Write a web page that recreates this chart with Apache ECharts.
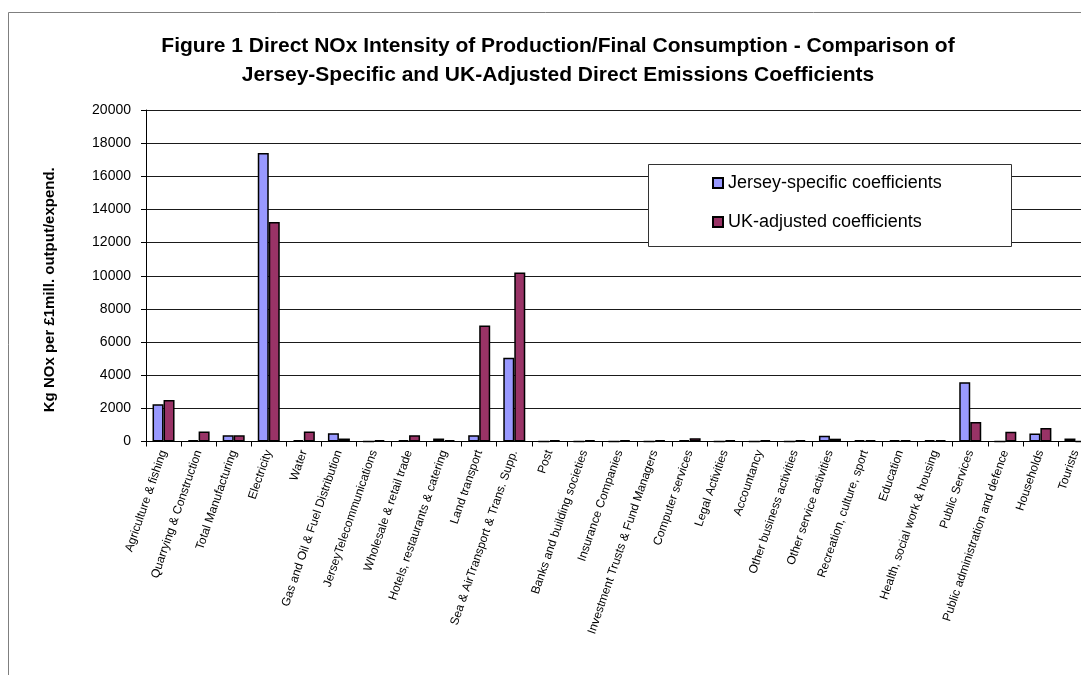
<!DOCTYPE html>
<html>
<head>
<meta charset="utf-8">
<script src="https://cdn.jsdelivr.net/npm/echarts@6/dist/echarts.min.js"></script>
<style>
  html, body { margin: 0; padding: 0; background: #fff; }
  #chart { width: 1081px; height: 675px; }
</style>
</head>
<body>
<div id="chart"></div>
<script>
// Sectors of the Jersey economy plus final-demand groups
const categories = [
  'Agriculture & fishing',
  'Quarrying & Construction',
  'Total Manufacturing',
  'Electricity',
  'Water',
  'Gas and Oil & Fuel Distribution',
  'JerseyTelecommunications',
  'Wholesale & retail trade',
  'Hotels, restaurants & catering',
  'Land transport',
  'Sea & AirTransport & Trans. Supp.',
  'Post',
  'Banks and building societies',
  'Insurance Companies',
  'Investment Trusts & Fund Managers',
  'Computer services',
  'Legal Activities',
  'Accountancy',
  'Other business activities',
  'Other service activities',
  'Recreation, culture, sport',
  'Education',
  'Health, social work & housing',
  'Public Services',
  'Public administration and defence',
  'Households',
  'Tourists'
];

// Kg NOx per £1 million output / expenditure
const jerseySpecific = [
  2250, 80, 370, 17400, 80, 500, 0, 80, 180, 370,
  5050, 0, 0, 0, 0, 80, 0, 0, 0, 350,
  80, 80, 80, 3580, 0, 490, 180
];
const ukAdjusted = [
  2500, 600, 370, 13250, 600, 180, 80, 380, 80, 7000,
  10200, 80, 80, 80, 80, 200, 80, 80, 80, 170,
  80, 80, 80, 1180, 590, 820, 0
];

const seriesNames = ['Jersey-specific coefficients', 'UK-adjusted coefficients'];
const seriesColors = ['#9999FF', '#993366'];

const yTicks = { min: 0, max: 20000, interval: 2000 };

const chart = echarts.init(document.getElementById('chart'), null, { renderer: 'canvas' });

const FONT = 'Arial, "Liberation Sans", sans-serif';

const option = {
  backgroundColor: '#ffffff',
  animation: false,
  title: {
    text: 'Figure 1 Direct NOx Intensity of Production/Final Consumption - Comparison of\nJersey-Specific and UK-Adjusted Direct Emissions Coefficients',
    left: 553,
    top: 27,
    textAlign: 'center',
    textStyle: {
      fontFamily: FONT,
      fontSize: 21,
      fontWeight: 'bold',
      color: '#000',
      lineHeight: 29
    }
  },
  graphic: [
    {
      type: 'rect',
      z: -1,
      silent: true,
      shape: { x: 8.5, y: 12.5, width: 1100, height: 700 },
      style: { fill: 'none', stroke: '#7f7f7f', lineWidth: 1 }
    },
    {
      type: 'rect',
      z: 3,
      silent: true,
      shape: { x: 648.5, y: 164.5, width: 363, height: 82 },
      style: { fill: '#ffffff', stroke: '#333333', lineWidth: 1 }
    }
  ],
  legend: {
    z: 5,
    orient: 'vertical',
    left: 712,
    top: 174,
    itemWidth: 10,
    itemHeight: 10,
    itemGap: 21,
    icon: 'rect',
    selectedMode: false,
    padding: 0,
    textStyle: {
      fontFamily: FONT,
      fontSize: 18,
      color: '#000',
      lineHeight: 18
    },
    data: seriesNames
  },
  grid: {
    left: 146,
    top: 110,
    width: 947,
    bottom: 233.5,
    containLabel: false,
    outerBoundsMode: 'none'
  },
  xAxis: {
    type: 'category',
    data: categories,
    boundaryGap: true,
    axisLine: { lineStyle: { color: '#000', width: 1 } },
    axisTick: { show: true, length: 5, lineStyle: { color: '#000' }, interval: 0 },
    axisLabel: {
      interval: 0,
      rotate: 71,
      margin: 9,
      fontFamily: FONT,
      fontSize: 12,
      color: '#000'
    },
    splitLine: { show: false }
  },
  yAxis: {
    type: 'value',
    min: yTicks.min,
    max: yTicks.max,
    interval: yTicks.interval,
    name: 'Kg NOx per £1mill. output/expend.',
    nameLocation: 'middle',
    nameRotate: 90,
    nameGap: 89,
    nameTextStyle: {
      fontFamily: FONT,
      fontSize: 15,
      fontWeight: 'bold',
      color: '#000',
      padding: [0, 28, 0, 0]
    },
    axisLine: { show: true, lineStyle: { color: '#000', width: 1 } },
    axisTick: { show: true, length: 5, lineStyle: { color: '#000' } },
    axisLabel: {
      margin: 15,
      fontFamily: FONT,
      fontSize: 14,
      color: '#000',
      formatter: function (v) { return String(v); }
    },
    splitLine: { show: true, lineStyle: { color: '#1a1a1a', width: 1 } }
  },
  series: [
    {
      name: seriesNames[0],
      type: 'bar',
      data: jerseySpecific,
      barWidth: 11,
      barGap: '0%',
      itemStyle: { color: seriesColors[0], borderColor: '#000', borderWidth: 1.5 }
    },
    {
      name: seriesNames[1],
      type: 'bar',
      data: ukAdjusted,
      barWidth: 11,
      barGap: '0%',
      itemStyle: { color: seriesColors[1], borderColor: '#000', borderWidth: 1.5 }
    }
  ]
};

chart.setOption(option);
</script>
</body>
</html>
